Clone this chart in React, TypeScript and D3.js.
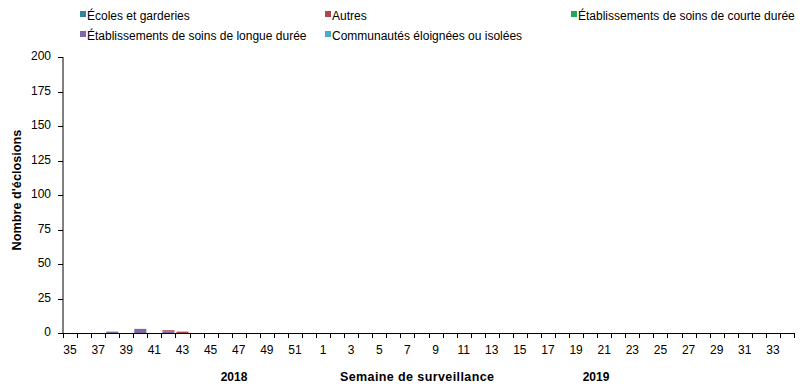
import React from "react";
import * as d3 from "d3";

const weeks: number[] = [
  35, 36, 37, 38, 39, 40, 41, 42, 43, 44, 45, 46, 47, 48, 49, 50, 51, 52,
  1, 2, 3, 4, 5, 6, 7, 8, 9, 10, 11, 12, 13, 14, 15, 16, 17, 18, 19, 20,
  21, 22, 23, 24, 25, 26, 27, 28, 29, 30, 31, 32, 33, 34,
];

const seriesNames: string[] = [
  "Écoles et garderies",
  "Autres",
  "Établissements de soins de courte durée",
  "Établissements de soins de longue durée",
  "Communautés éloignées ou isolées",
];
const seriesColors: string[] = ["#31859C", "#B0444A", "#1AAB5A", "#7F68A8", "#4BACC6"];

const ecoles: number[] = new Array(52).fill(0);
const autres: number[] = [0, 0, 0, 0, 0, 0, 0, 1, 1, ...new Array(43).fill(0)];
const courte: number[] = new Array(52).fill(0);
const longue: number[] = [0, 0, 0, 1, 0, 3, 0, 1, 0, ...new Array(43).fill(0)];
const communautes: number[] = new Array(52).fill(0);

const yTicks: number[] = [0, 25, 50, 75, 100, 125, 150, 175, 200];

export default function App() {
  const W = 805, H = 386;
  const x0 = 63, x1 = 794, y0 = 333, y1 = 57;
  const step = (x1 - x0) / weeks.length;
  const y = d3.scaleLinear().domain([0, 200]).range([y0, y1]);
  const table = weeks.map((w, i) => ({
    i,
    s0: ecoles[i], s1: autres[i], s2: courte[i], s3: longue[i], s4: communautes[i],
  }));
  const keys = ["s0", "s3", "s1", "s2", "s4"];
  const stack = d3.stack<any>().keys(keys)(table);
  const colorFor: Record<string, string> = {
    s0: seriesColors[0], s1: seriesColors[1], s2: seriesColors[2], s3: seriesColors[3], s4: seriesColors[4],
  };
  const font = "Liberation Sans, Arial, sans-serif";
  const legend = [
    { i: 0, x: 80, y: 18 },
    { i: 1, x: 325, y: 18 },
    { i: 2, x: 571, y: 18 },
    { i: 3, x: 80, y: 38 },
    { i: 4, x: 325, y: 38 },
  ];
  return (
    <svg width={W} height={H} style={{ position: "absolute", left: 0, top: 0, background: "#fff" }} fontFamily={font}>
      {legend.map((l) => (
        <g key={l.i}>
          <rect x={l.x} y={l.y - 7} width={6} height={6} fill={seriesColors[l.i]} />
          <text x={l.x + 7} y={l.y} fontSize={12} fill="#000" dominantBaseline="middle" dy="-0.1em">{seriesNames[l.i]}</text>
        </g>
      ))}
      {stack.map((layer) => (
        <g key={layer.key} fill={colorFor[layer.key as string]}>
          {layer.map((d, i) => (d[1] - d[0] > 0 ? (
            <rect key={i} x={x0 + step * i + 1} width={step - 2} y={y(d[1])} height={y(d[0]) - y(d[1])} />
          ) : null))}
        </g>
      ))}
      <line x1={x0} x2={x0} y1={y1} y2={y0} stroke="#000" />
      {yTicks.map((t) => (
        <g key={t}>
          <line x1={x0 - 5} x2={x0} y1={Math.round(y(t)) + 0.5} y2={Math.round(y(t)) + 0.5} stroke="#000" />
          <text x={x0 - 12} y={y(t)} fontSize={12} textAnchor="end" dominantBaseline="middle">{t}</text>
        </g>
      ))}
      <line x1={x0} x2={x1} y1={y0 + 0.5} y2={y0 + 0.5} stroke="#000" />
      {d3.range(weeks.length + 1).map((i) => (
        <line key={i} x1={Math.round(x0 + step * i) + 0.5} x2={Math.round(x0 + step * i) + 0.5} y1={y0} y2={y0 + 5} stroke="#000" />
      ))}
      {weeks.map((w, i) => (i % 2 === 0 ? (
        <text key={i} x={x0 + step * (i + 0.5)} y={351} fontSize={12} textAnchor="middle" dominantBaseline="middle">{w}</text>
      ) : null))}
      <text x={234} y={378} fontSize={12} fontWeight="bold" textAnchor="middle" dominantBaseline="middle">2018</text>
      <text x={340} y={378} fontSize={12.5} fontWeight="bold" textLength={154} lengthAdjust="spacing" dominantBaseline="middle">Semaine de surveillance</text>
      <text x={596} y={378} fontSize={12} fontWeight="bold" textAnchor="middle" dominantBaseline="middle">2019</text>
      <text transform={`translate(18,190) rotate(-90)`} fontSize={12.7} fontWeight="bold" textAnchor="middle" dominantBaseline="middle">Nombre d'éclosions</text>
    </svg>
  );
}
